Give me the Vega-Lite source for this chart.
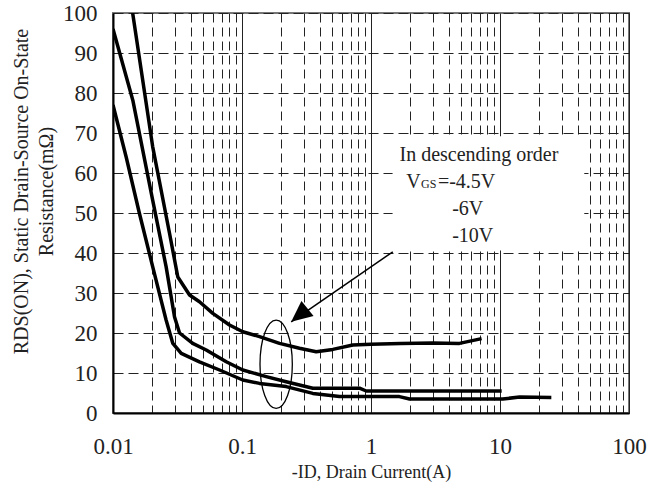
{
  "$schema": "https://vega.github.io/schema/vega-lite/v6.json",
  "width": 516,
  "height": 400,
  "autosize": {"type": "none"},
  "padding": {"left": 113, "top": 13, "right": 19, "bottom": 79},
  "background": "white",
  "config": {
    "view": {"stroke": "#777", "strokeWidth": 2},
    "font": "Liberation Serif",
    "axis": {"labelFont": "Liberation Serif", "titleFont": "Liberation Serif", "titleFontWeight": "normal", "titleColor": "#222", "labelColor": "#222"},
    "axisY": {"titleFontSize": 20, "titleLineHeight": 25},
    "axisX": {"titleFontSize": 18}
  },
  "datasets": {
    "curves": [
      {"vgs": "-4.5V", "x": 0.0142, "y": 100},
      {"vgs": "-4.5V", "x": 0.0203, "y": 66.6},
      {"vgs": "-4.5V", "x": 0.0274, "y": 45},
      {"vgs": "-4.5V", "x": 0.0318, "y": 34},
      {"vgs": "-4.5V", "x": 0.0392, "y": 29.5},
      {"vgs": "-4.5V", "x": 0.0468, "y": 27.8},
      {"vgs": "-4.5V", "x": 0.0594, "y": 24.9},
      {"vgs": "-4.5V", "x": 0.08, "y": 22},
      {"vgs": "-4.5V", "x": 0.1014, "y": 20.3},
      {"vgs": "-4.5V", "x": 0.1367, "y": 19.1},
      {"vgs": "-4.5V", "x": 0.1953, "y": 17.4},
      {"vgs": "-4.5V", "x": 0.279, "y": 16.2},
      {"vgs": "-4.5V", "x": 0.376, "y": 15.3},
      {"vgs": "-4.5V", "x": 0.506, "y": 15.9},
      {"vgs": "-4.5V", "x": 0.723, "y": 17},
      {"vgs": "-4.5V", "x": 1.0, "y": 17.2},
      {"vgs": "-4.5V", "x": 1.7, "y": 17.4},
      {"vgs": "-4.5V", "x": 3.0, "y": 17.5},
      {"vgs": "-4.5V", "x": 4.85, "y": 17.4},
      {"vgs": "-4.5V", "x": 7.2, "y": 18.6},
      {"vgs": "-6V", "x": 0.01, "y": 96},
      {"vgs": "-6V", "x": 0.01424, "y": 78.2},
      {"vgs": "-6V", "x": 0.0203, "y": 53.2},
      {"vgs": "-6V", "x": 0.0258, "y": 36.6},
      {"vgs": "-6V", "x": 0.03, "y": 24},
      {"vgs": "-6V", "x": 0.0328, "y": 20},
      {"vgs": "-6V", "x": 0.0415, "y": 17.4},
      {"vgs": "-6V", "x": 0.0528, "y": 15.75},
      {"vgs": "-6V", "x": 0.0755, "y": 12.8},
      {"vgs": "-6V", "x": 0.1014, "y": 10.75},
      {"vgs": "-6V", "x": 0.154, "y": 9.1},
      {"vgs": "-6V", "x": 0.22, "y": 7.8},
      {"vgs": "-6V", "x": 0.354, "y": 6.2},
      {"vgs": "-6V", "x": 0.815, "y": 6.2},
      {"vgs": "-6V", "x": 0.918, "y": 5.5},
      {"vgs": "-6V", "x": 1.66, "y": 5.5},
      {"vgs": "-6V", "x": 10.3, "y": 5.5},
      {"vgs": "-10V", "x": 0.01, "y": 77},
      {"vgs": "-10V", "x": 0.01265, "y": 64},
      {"vgs": "-10V", "x": 0.016, "y": 50},
      {"vgs": "-10V", "x": 0.0203, "y": 36.6},
      {"vgs": "-10V", "x": 0.0258, "y": 23.25},
      {"vgs": "-10V", "x": 0.0291, "y": 17.4},
      {"vgs": "-10V", "x": 0.0338, "y": 14.9},
      {"vgs": "-10V", "x": 0.0468, "y": 12.8},
      {"vgs": "-10V", "x": 0.067, "y": 10.75},
      {"vgs": "-10V", "x": 0.1014, "y": 8.25},
      {"vgs": "-10V", "x": 0.1367, "y": 7.4},
      {"vgs": "-10V", "x": 0.22, "y": 6.6},
      {"vgs": "-10V", "x": 0.354, "y": 4.9},
      {"vgs": "-10V", "x": 0.57, "y": 4.1},
      {"vgs": "-10V", "x": 1.66, "y": 4.1},
      {"vgs": "-10V", "x": 1.99, "y": 3.5},
      {"vgs": "-10V", "x": 10.5, "y": 3.5},
      {"vgs": "-10V", "x": 14.2, "y": 4.0},
      {"vgs": "-10V", "x": 25.0, "y": 3.9}
    ]
  },
  "encoding": {
    "x": {
      "field": "x",
      "type": "quantitative",
      "scale": {"type": "log", "domain": [0.01, 100], "nice": false},
      "axis": {
        "values": [0.01, 0.02, 0.03, 0.04, 0.05, 0.06, 0.07, 0.08, 0.09, 0.1, 0.2, 0.3, 0.4, 0.5, 0.6, 0.7, 0.8, 0.9, 1, 2, 3, 4, 5, 6, 7, 8, 9, 10, 20, 30, 40, 50, 60, 70, 80, 90, 100],
        "grid": true,
        "gridColor": "#222",
        "gridWidth": 1,
        "gridOpacity": 1,
        "gridDash": {"condition": {"test": "abs(log(datum.value)/LN10 - round(log(datum.value)/LN10)) < 0.01", "value": []}, "value": [9, 5]},
        "ticks": false,
        "domainColor": "black",
        "domainWidth": 2,
        "labelExpr": "abs(log(datum.value)/LN10 - round(log(datum.value)/LN10)) < 0.01 ? format(datum.value, '~g') : ''",
        "labelFontSize": 23,
        "labelPadding": 22,
        "labelFlush": false,
        "labelOverlap": false,
        "labelBound": false,
        "title": "-ID, Drain Current(A)",
        "titlePadding": 5
      }
    },
    "y": {
      "field": "y",
      "type": "quantitative",
      "scale": {"domain": [0, 100], "nice": false},
      "axis": {
        "values": [0, 10, 20, 30, 40, 50, 60, 70, 80, 90, 100],
        "grid": true,
        "gridColor": "#222",
        "gridWidth": 1,
        "gridOpacity": 1,
        "gridDash": [10, 5],
        "ticks": false,
        "domainColor": "black",
        "domainWidth": 2,
        "labelFontSize": 23,
        "labelPadding": 16,
        "labelFlush": false,
        "labelOverlap": false,
        "title": ["RDS(ON), Static Drain-Source On-State", "Resistance(mΩ)"],
        "titleBaseline": "alphabetic",
        "titleAlign": "center",
        "titleAngle": -90,
        "titleX": -86,
        "titleY": 178
      }
    }
  },
  "layer": [
    {
      "data": {"name": "curves"},
      "mark": {"type": "line", "color": "black", "strokeWidth": 3.5, "strokeJoin": "round", "clip": true},
      "encoding": {"detail": {"field": "vgs"}}
    },
    {
      "data": {"values": [{"x": 1.47, "xe": 45, "y": 40.6, "ye": 69.2}]},
      "mark": {"type": "rect", "fill": "white", "strokeWidth": 0},
      "encoding": {"x2": {"field": "xe"}, "y2": {"field": "ye"}}
    },
    {
      "data": {"values": [{"x": 1.476, "y": 40.3, "xe": 0.2406, "ye": 22.8}]},
      "mark": {"type": "rule", "color": "black", "strokeWidth": 1.5},
      "encoding": {"x2": {"field": "xe"}, "y2": {"field": "ye"}}
    },
    {
      "data": {"values": [{"x": 0.2406, "y": 22.8}]},
      "mark": {"type": "point", "shape": "M0,0L0.92,2L-0.92,2Z", "size": 441, "angle": 231, "filled": true, "color": "black", "opacity": 1, "strokeWidth": 0},
      "encoding": {}
    },
    {
      "data": {"values": [{"x": 0.184, "y": 12.2}]},
      "mark": {"type": "point", "shape": "M-0.366,0A0.366,1,0,1,0,0.366,0A0.366,1,0,1,0,-0.366,0Z", "size": 7800, "filled": false, "stroke": "black", "strokeWidth": 1.3, "opacity": 1},
      "encoding": {}
    },
    {
      "data": {"values": [
        {"t": "In descending order", "x": 1.663, "y": 63.1},
        {"t": "V", "x": 1.875, "y": 56.25},
        {"t": "=-4.5V", "x": 3.3, "y": 56.25},
        {"t": "-6V", "x": 4.26, "y": 49.5},
        {"t": "-10V", "x": 4.26, "y": 42.8}
      ]},
      "mark": {"type": "text", "align": "left", "baseline": "alphabetic", "font": "Liberation Serif", "fontSize": 20, "color": "#222"},
      "encoding": {"text": {"field": "t"}}
    },
    {
      "data": {"values": [{"t": "GS", "x": 2.44, "y": 56.25}]},
      "mark": {"type": "text", "align": "left", "baseline": "alphabetic", "font": "Liberation Serif", "fontSize": 12, "color": "#222"},
      "encoding": {"text": {"field": "t"}}
    }
  ]
}
